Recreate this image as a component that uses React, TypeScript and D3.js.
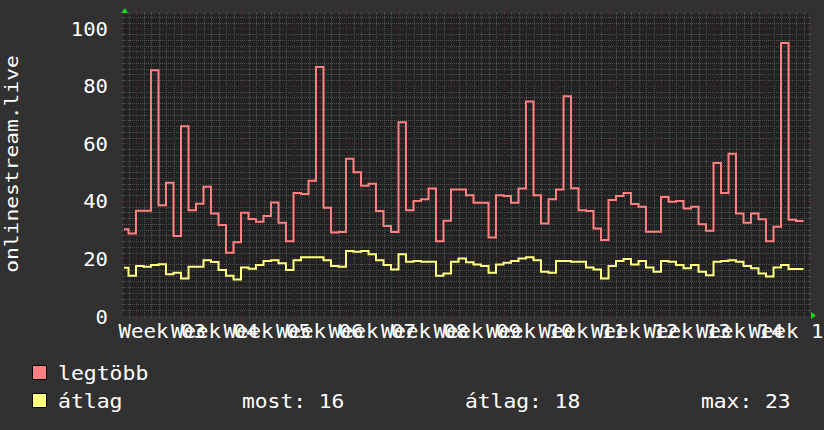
import * as d3 from "d3";

// daily values (one per day)
const maxValues = [
  30.2, 28.7, 36.6, 36.6, 85.4, 38.5, 46.3, 27.8, 66, 36.8,
  39, 44.9, 35.6, 31.6, 22, 25.6, 35.9, 33.7, 32.8, 34.8,
  39.5, 32.4, 26, 42.8, 42.4, 47, 86.6, 37.6, 29, 29.2,
  54.7, 50, 45.3, 46, 36.5, 31.3, 29.2, 67.4, 36.8, 40,
  40.6, 44.3, 26, 33.1, 44, 44, 42, 39.4, 39.4, 27.3,
  42, 41.7, 39.4, 44.3, 74.6, 42, 32.2, 40.6, 44, 76.4,
  44.4, 36.8, 36.5, 30.4, 26.4, 40.3, 41.7, 42.8, 38.9, 38,
  29.3, 29.3, 41.4, 39.7, 40, 37.4, 38, 31.9, 29.6, 53.2,
  42.8, 56.4, 35.6, 32.4, 35.6, 33.6, 26, 31, 94.9, 33.5, 33,
];
const avgValues = [
  16.8, 14, 17.4, 17.1, 17.7, 18, 14.5, 15, 13, 17.1,
  17.1, 19.4, 18.75, 16, 14, 12.7, 16.9, 16.4, 17.7, 19.1,
  19.4, 18.3, 16, 19.4, 20.4, 20.4, 20.4, 19.4, 17.4, 17.1,
  22.6, 22.3, 22.6, 21.5, 19.4, 17.7, 16.2, 21.5, 18.9, 19.1,
  18.9, 18.9, 14, 14.8, 18.9, 20, 18.7, 17.9, 17.4, 15,
  17.9, 18.5, 19.1, 20, 20.4, 19.4, 15.4, 15, 19.1, 19.1,
  18.9, 18.9, 16.9, 16.2, 13, 17.4, 19.1, 19.8, 17.9, 19.1,
  16.9, 15.4, 19.1, 18.9, 17.7, 16.6, 17.7, 15.4, 14.2, 18.9,
  19.1, 19.4, 18.9, 17.4, 16.6, 14.8, 13.7, 16.9, 17.7, 16.3, 16.3,
];
const weekLabels = [
  "Week 03", "Week 04", "Week 05", "Week 06", "Week 07", "Week 08", "Week 09",
  "Week 10", "Week 11", "Week 12", "Week 13", "Week 14", "Week 15",
];
const yTicks = [0, 20, 40, 60, 80, 100];

const W = 824;
const H = 430;
const left = 124;
const right = 809;
const top = 14;
const bottom = 316;

const FONT = "'DejaVu Sans Mono', monospace";
const MINOR = "#505050";
const MAJOR = "#5e3232";

export default function App() {
  // day index -> pixel; day 2 is the start of week 03
  const x = d3.scaleLinear().domain([0.4, 91.73]).range([left, right]);
  const y = d3.scaleLinear().domain([0, 105]).range([bottom, top]);

  const step = d3
    .line<number>()
    .x((_, i) => x(i))
    .y((v) => y(v))
    .curve(d3.curveStepAfter);
  const path = (vals: number[]) => step([...vals, vals[vals.length - 1]]) ?? "";

  const px = (v: number) => Math.round(v) + 0.5;

  const days = d3.range(1, 92).filter((d) => x(d) <= right);
  const weekStarts = days.filter((d) => (d - 2) % 7 === 0);
  const minorDays = days.filter((d) => (d - 2) % 7 !== 0);
  const minorY = d3.range(2, 105, 2).filter((v) => v % 20 !== 0);
  const majorY = yTicks.filter((v) => v > 0);

  const most = Math.round(avgValues[avgValues.length - 1]);
  const mean = Math.round(d3.mean(avgValues) ?? 0);
  const peak = Math.round(d3.max(avgValues) ?? 0);

  const txt = (s: string, cw: number) => ({
    textLength: s.length * cw,
    lengthAdjust: "spacingAndGlyphs" as const,
  });

  return (
    <svg
      width={W}
      height={H}
      style={{ position: "absolute", left: 0, top: 0, background: "#313131" }}
      fontFamily={FONT}
    >
      <defs>
        <clipPath id="plot">
          <rect x={left} y={top} width={right - left} height={bottom - top} />
        </clipPath>
      </defs>
      <rect width={W} height={H} fill="#313131" />
      <rect x={left - 1} y={top} width={right - left + 1} height={bottom - top} fill="#222222" />

      {/* minor grid */}
      <g shapeRendering="crispEdges" strokeWidth={1}>
        {minorDays.map((d) => (
          <g key={"mx" + d}>
            <line x1={px(x(d))} x2={px(x(d))} y1={top} y2={bottom} stroke={MINOR} strokeDasharray="1,1" />
            <line x1={px(x(d))} x2={px(x(d))} y1={top - 2} y2={top} stroke={MINOR} />
            <line x1={px(x(d))} x2={px(x(d))} y1={bottom} y2={bottom + 2} stroke={MINOR} />
          </g>
        ))}
        {minorY.map((v) => (
          <g key={"my" + v}>
            <line x1={left} x2={right} y1={px(y(v))} y2={px(y(v))} stroke={MINOR} strokeDasharray="1,1" />
            <line x1={left - 2} x2={left} y1={px(y(v))} y2={px(y(v))} stroke={MINOR} />
            <line x1={right} x2={right + 2} y1={px(y(v))} y2={px(y(v))} stroke={MINOR} />
          </g>
        ))}
        {weekStarts.map((d) => (
          <g key={"Mx" + d}>
            <line x1={px(x(d))} x2={px(x(d))} y1={top} y2={bottom} stroke={MAJOR} strokeDasharray="1,2" />
            <line x1={px(x(d))} x2={px(x(d))} y1={top - 3} y2={top} stroke={MAJOR} />
            <line x1={px(x(d))} x2={px(x(d))} y1={bottom} y2={bottom + 3} stroke={MAJOR} />
          </g>
        ))}
        {majorY.map((v) => (
          <g key={"My" + v}>
            <line x1={left} x2={right} y1={px(y(v))} y2={px(y(v))} stroke={MAJOR} strokeDasharray="1,2" />
            <line x1={left - 3} x2={left} y1={px(y(v))} y2={px(y(v))} stroke={MAJOR} />
            <line x1={right} x2={right + 3} y1={px(y(v))} y2={px(y(v))} stroke={MAJOR} />
          </g>
        ))}
      </g>

      {/* arrows */}
      <path d={`M${left - 3},13 L${left + 1},8 L${left + 4},13 Z`} fill="#1fd01f" />
      <path d={`M${right + 2},312 L${right + 7},315.5 L${right + 2},319 Z`} fill="#1fd01f" />

      {/* series */}
      <g clipPath="url(#plot)" fill="none" strokeWidth={2}>
        <path d={path(avgValues)} stroke="#ffff80" />
        <path d={path(maxValues)} stroke="#ff8080" />
      </g>

      {/* y axis labels */}
      <g fill="#ffffff" fontSize={20} textAnchor="end">
        {yTicks.map((v) => (
          <text key={v} x={108} y={y(v) + 7.5} {...txt(String(v), 12.4)}>
            {v}
          </text>
        ))}
      </g>

      {/* x axis labels */}
      <g fill="#ffffff" fontSize={19} textAnchor="middle">
        {weekLabels.map((s, k) => (
          <text key={s} x={x(5.5 + 7 * k)} y={338} {...txt(s, 12.5)}>
            {s}
          </text>
        ))}
      </g>

      {/* vertical title */}
      <text
        transform={`translate(18,164) rotate(-90)`}
        fill="#ffffff"
        fontSize={18}
        textAnchor="middle"
        {...txt("onlinestream.live", 12.8)}
      >
        onlinestream.live
      </text>

      {/* legend */}
      <g fontSize={19} fill="#ffffff">
        <rect x={32.5} y={365.5} width={14} height={14} fill="#ff8080" stroke="#000" />
        <text x={58} y={380} {...txt("legtöbb", 12.9)}>legtöbb</text>
        <rect x={32.5} y={393.5} width={14} height={14} fill="#ffff80" stroke="#000" />
        <text x={58} y={408} {...txt("átlag", 12.9)}>átlag</text>
        <text x={242} y={408} {...txt(`most: ${most}`, 12.8)}>{`most: ${most}`}</text>
        <text x={465} y={408} {...txt(`átlag: ${mean}`, 12.8)}>{`átlag: ${mean}`}</text>
        <text x={701} y={408} {...txt(`max: ${peak}`, 12.8)}>{`max: ${peak}`}</text>
      </g>
    </svg>
  );
}
